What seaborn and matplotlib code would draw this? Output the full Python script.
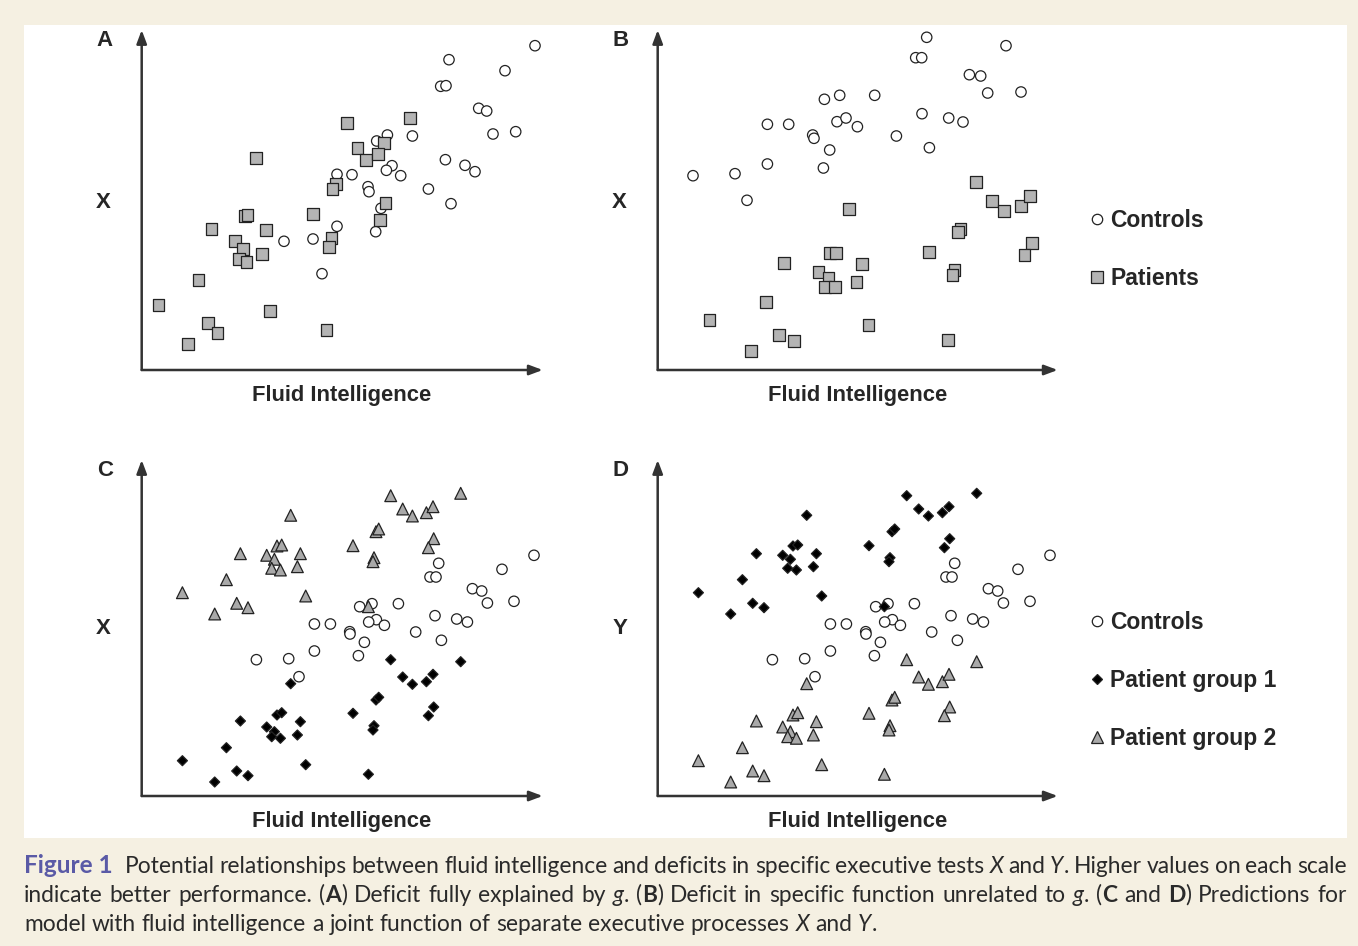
import re
import matplotlib
matplotlib.use("Agg")
import matplotlib.pyplot as plt
from matplotlib.patches import Rectangle
import pandas as pd
import seaborn as sns

W, H = 1358, 946

# values are read off the figure, in axis units (origin = arrow corner)
# panel A
a_ctrl_x = [393.3, 307.3, 363.3, 299.0, 304.3, 337.0, 345.0, 351.3, 374.0, 270.7,
            245.7, 235.0, 303.7, 323.3, 333.3, 250.3, 244.7, 259.0, 286.7, 309.3,
            195.3, 210.3, 226.3, 227.3, 239.3, 234.0, 195.3, 171.3, 142.3, 180.3]
a_ctrl_y = [324.3, 310.3, 299.3, 283.7, 284.3, 261.7, 259.0, 236.0, 238.3, 234.0,
            235.0, 229.0, 210.3, 204.7, 198.3, 204.3, 199.7, 194.3, 181.0, 166.3,
            195.7, 195.3, 183.3, 178.3, 161.7, 138.3, 143.7, 131.0, 128.7, 96.3]
a_pat_x = [268.3, 205.0, 242.3, 215.7, 224.3, 236.0, 114.3, 194.0, 190.7, 243.7,
           238.3, 171.3, 103.3, 105.7, 69.7, 124.3, 93.0, 101.0, 97.3, 104.7,
           120.0, 189.7, 187.3, 56.7, 16.7, 128.3, 66.0, 75.7, 46.0, 184.7]
a_pat_y = [252.3, 247.0, 227.3, 222.3, 210.3, 215.7, 211.7, 186.0, 180.7, 166.7,
           150.0, 156.0, 154.0, 155.0, 141.3, 139.7, 128.7, 120.7, 110.7, 108.3,
           115.7, 132.0, 123.0, 90.0, 65.0, 59.0, 47.0, 37.3, 25.7, 39.7]

# panel B
b_ctrl_x = [269.0, 258.0, 264.0, 348.3, 311.7, 323.0, 330.0, 363.3, 166.7, 182.0,
            217.0, 264.3, 291.0, 305.3, 109.7, 131.0, 179.3, 188.3, 199.7, 155.0,
            156.3, 238.7, 271.7, 172.0, 109.7, 165.7, 35.3, 77.3, 89.3]
b_ctrl_y = [332.7, 312.3, 312.3, 324.3, 295.3, 294.0, 277.0, 278.0, 270.7, 274.7,
            274.7, 256.3, 252.0, 248.0, 245.7, 245.7, 248.3, 252.0, 243.3, 235.0,
            231.7, 234.0, 222.3, 220.0, 206.0, 202.0, 194.3, 196.3, 169.7]
b_pat_x = [318.0, 334.3, 346.0, 363.0, 372.0, 191.3, 302.7, 300.0, 374.3, 366.7,
           271.0, 172.0, 178.3, 126.0, 204.0, 160.7, 170.7, 167.3, 177.3, 198.7,
           296.7, 294.7, 108.3, 51.7, 121.0, 136.3, 93.3, 210.7, 290.0]
b_pat_y = [187.7, 169.3, 159.3, 164.3, 174.0, 161.0, 141.3, 137.7, 126.7, 115.0,
           118.0, 116.7, 116.7, 107.3, 106.3, 97.7, 91.7, 83.3, 82.7, 87.7,
           100.0, 95.0, 68.3, 50.0, 35.3, 28.7, 19.0, 45.0, 29.7]

# panels C and D (same controls; patient clouds swap between groups)
cd_ctrl_x = [392.3, 360.3, 297.0, 288.3, 294.3, 330.7, 340.0, 345.7, 372.3, 256.7,
             230.3, 218.0, 293.3, 315.0, 325.7, 234.7, 227.0, 242.7, 274.0, 299.7,
             172.7, 188.7, 208.0, 208.3, 222.7, 216.7, 172.7, 147.0, 114.7, 157.3]
cd_ctrl_y = [240.7, 226.7, 232.7, 219.0, 219.0, 207.3, 205.0, 193.0, 194.7, 192.3,
             192.3, 189.3, 180.3, 177.0, 174.0, 176.3, 174.0, 170.7, 164.0, 155.7,
             172.0, 172.0, 164.3, 162.0, 153.7, 140.3, 145.0, 137.3, 136.3, 119.3]
high_x = [319.0, 249.0, 261.0, 270.7, 284.7, 291.3, 149.0, 234.3, 237.0, 292.0,
          286.7, 211.3, 98.7, 135.3, 140.0, 158.7, 125.0, 132.7, 130.0, 138.7,
          155.7, 232.3, 231.3, 84.7, 40.7, 164.0, 226.7, 95.0, 106.3, 73.0]
high_y = [302.7, 300.3, 287.0, 280.0, 283.3, 289.3, 280.7, 264.3, 267.0, 257.3,
          248.3, 250.3, 242.3, 250.0, 251.0, 242.3, 240.7, 236.7, 227.7, 226.0,
          229.3, 238.3, 234.3, 216.3, 203.3, 200.0, 189.3, 192.7, 188.3, 182.0]
low_x = [319.0, 249.0, 261.0, 270.7, 284.7, 291.3, 149.0, 234.3, 237.0, 292.0,
         286.7, 211.3, 98.7, 135.3, 140.0, 158.7, 125.0, 132.7, 130.0, 138.7,
         155.7, 232.3, 231.3, 84.7, 40.7, 164.0, 226.7, 95.0, 106.3, 73.0]
low_y = [134.3, 136.3, 119.0, 111.7, 114.3, 121.7, 112.3, 96.0, 98.7, 89.0,
         80.3, 82.7, 75.0, 81.0, 83.3, 74.3, 69.0, 64.3, 59.3, 57.7,
         61.0, 70.3, 66.0, 48.3, 35.3, 31.3, 21.7, 25.0, 20.3, 14.0]

palette = {"Controls": "white", "Patients": "#b4b4b4",
           "Patient group 1": "black", "Patient group 2": "#a9a9a9"}
markers = {"Controls": "o", "Patients": "s",
           "Patient group 1": "D", "Patient group 2": "^"}
sizes = {"Controls": 56, "Patients": 72,
         "Patient group 1": 26, "Patient group 2": 72}

caption = [
    "Potential relationships between fluid intelligence and deficits in specific "
    "executive tests _X_ and _Y_. Higher values on each scale",
    "indicate better performance. (*A*) Deficit fully explained by _g_. (*B*) Deficit "
    "in specific function unrelated to _g_. (*C* and *D*) Predictions for",
    "model with fluid intelligence a joint function of separate executive "
    "processes _X_ and _Y_.",
]

BOLD = ["Liberation Sans", "DejaVu Sans"]
CAP = ["Lato", "DejaVu Sans"]


def fx(x):
    return x / W


def fy(y):
    return 1 - y / H


def frame(groups):
    rows = []
    for name, xs, ys in groups:
        rows += [(name, x, y) for x, y in zip(xs, ys)]
    return pd.DataFrame(rows, columns=["group", "fi", "score"])


def panel(fig, left, base, w, h, df, letter, ylab, legend_pos=None):
    ax = fig.add_axes([fx(left), fy(base), w / W, h / H])
    ax.patch.set_alpha(0)
    sns.scatterplot(data=df, x="fi", y="score", hue="group", style="group",
                    size="group", palette=palette, markers=markers, sizes=sizes,
                    edgecolor="#222222", linewidth=0.9, clip_on=False,
                    legend=legend_pos is not None, ax=ax)
    ax.set(xlim=(0, w), ylim=(0, h), xticks=[], yticks=[], xlabel="", ylabel="")
    sns.despine(ax=ax, left=True, bottom=True)
    arrow = dict(arrowstyle="-|>,head_length=0.8,head_width=0.3", color="#333333",
                 lw=1.8, mutation_scale=10, shrinkA=0, shrinkB=0)
    ax.annotate("", xy=(1, 0), xytext=(0, 0), xycoords="axes fraction", arrowprops=arrow)
    ax.annotate("", xy=(0, 1), xytext=(0, 0), xycoords="axes fraction", arrowprops=arrow)
    fig.text(fx(left - 37), fy(base - h + 10), letter, family=BOLD, weight="bold",
             size=16, ha="center", va="center")
    fig.text(fx(left - 38), fy(base - 167), ylab, family=BOLD, weight="bold",
             size=16, ha="center", va="center")
    fig.text(fx(left + 200), fy(base + 25), "Fluid Intelligence", family=BOLD,
             weight="bold", size=15.8, ha="center", va="center")
    if legend_pos is not None:
        sns.move_legend(ax, "upper left", bbox_to_anchor=(fx(legend_pos[0]), fy(legend_pos[1])),
                        bbox_transform=fig.transFigure, title=None, frameon=False,
                        prop=dict(family=BOLD, weight="bold", size=16.5),
                        labelspacing=1.53, handletextpad=0.12, handlelength=0.9,
                        borderpad=0, borderaxespad=0)
    return ax


def segments(word):
    out = []
    for part in re.split(r"(\*[^*]+\*|_[^_]+_)", word):
        if not part:
            continue
        if part.startswith("*"):
            out.append((part[1:-1], "normal", "bold"))
        elif part.startswith("_"):
            out.append((part[1:-1], "italic", "normal"))
        else:
            out.append((part, "normal", "normal"))
    return out


def caption_line(fig, renderer, text, x0, x1, y, justify, size=16.4):
    words = []
    for word in text.split(" "):
        items = []
        for s, style, weight in segments(word):
            t = fig.text(0, fy(y), s, family=CAP, style=style, weight=weight,
                         size=size, color="#2a2a2a", va="baseline")
            items.append((t, t.get_window_extent(renderer).width))
        words.append(items)
    a = fig.text(0, 0, "a a", family=CAP, size=size)
    b = fig.text(0, 0, "aa", family=CAP, size=size)
    space = a.get_window_extent(renderer).width - b.get_window_extent(renderer).width
    a.remove()
    b.remove()
    total = sum(w for items in words for _, w in items)
    gap = (x1 - x0 - total) / (len(words) - 1) if justify else space
    x = x0
    for items in words:
        for t, w in items:
            t.set_x(fx(x))
            x += w
        x += gap


def main():
    sns.set_style("white")
    plt.rcParams["font.family"] = BOLD
    fig = plt.figure(figsize=(W / 100, H / 100), dpi=100, facecolor="#f5f0e2")
    fig.patches.append(Rectangle((fx(24), fy(838)), (1347 - 24) / W, (838 - 25) / H,
                                 transform=fig.transFigure, facecolor="white",
                                 edgecolor="none", zorder=-1))

    df_a = frame([("Controls", a_ctrl_x, a_ctrl_y), ("Patients", a_pat_x, a_pat_y)])
    df_b = frame([("Controls", b_ctrl_x, b_ctrl_y), ("Patients", b_pat_x, b_pat_y)])
    df_c = frame([("Controls", cd_ctrl_x, cd_ctrl_y), ("Patient group 1", low_x, low_y),
                  ("Patient group 2", high_x, high_y)])
    df_d = frame([("Controls", cd_ctrl_x, cd_ctrl_y), ("Patient group 1", high_x, high_y),
                  ("Patient group 2", low_x, low_y)])

    panel(fig, 141.7, 370, 401, 340, df_a, "A", "X")
    panel(fig, 657.7, 370, 400, 340, df_b, "B", "X", legend_pos=(1087, 209))
    panel(fig, 141.7, 796, 401, 336, df_c, "C", "X")
    panel(fig, 657.7, 796, 400, 336, df_d, "D", "Y", legend_pos=(1087, 611))

    renderer = fig.canvas.get_renderer()
    label = fig.text(fx(24), fy(873), "Figure 1", family=CAP, weight="bold",
                     size=17.5, color="#5a5aa6", va="baseline")
    lx = 24 + label.get_window_extent(renderer).width + 12
    caption_line(fig, renderer, caption[0], lx, 1347, 873, True)
    caption_line(fig, renderer, caption[1], 24, 1347, 902, True)
    caption_line(fig, renderer, caption[2], 24, 1347, 931, False)

    fig.savefig("out.png", dpi=100, facecolor=fig.get_facecolor())


if __name__ == "__main__":
    main()
